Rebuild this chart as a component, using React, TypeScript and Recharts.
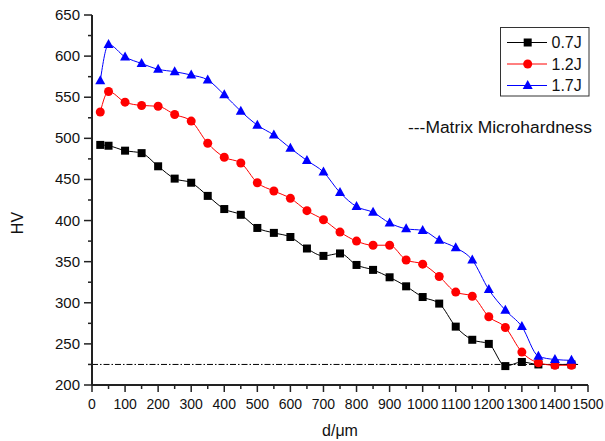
import React from "react";
import { LineChart, Line, XAxis, YAxis, ReferenceLine, Legend } from "recharts";

// distance from surface (µm) and microhardness for each impact energy
const distance = [25, 50, 100, 150, 200, 250, 300, 350, 400, 450, 500, 550, 600, 650, 700, 750, 800, 850, 900, 950, 1000, 1050, 1100, 1150, 1200, 1250, 1300, 1350, 1400, 1450];
const hv07 = [492, 491, 485, 482, 466, 451, 446, 430, 414, 407, 391, 385, 380, 366, 357, 360, 346, 340, 331, 320, 307, 299, 271, 255, 250, 223, 228, 225, 225, 225];
const hv12 = [532, 557, 544, 540, 539, 529, 521, 494, 477, 470, 446, 436, 427, 412, 401, 386, 375, 370, 370, 352, 347, 332, 313, 308, 283, 270, 240, 227, 224, 224];
const hv17 = [570, 614, 599, 591, 584, 581, 577, 571, 553, 533, 516, 504, 488, 473, 459, 434, 417, 410, 397, 390, 388, 376, 367, 352, 316, 291, 271, 235, 231, 230];

const xTicks = [0, 50, 100, 150, 200, 250, 300, 350, 400, 450, 500, 550, 600, 650, 700, 750, 800, 850, 900, 950, 1000, 1050, 1100, 1150, 1200, 1250, 1300, 1350, 1400, 1450, 1500];
const yTicks = [200, 225, 250, 275, 300, 325, 350, 375, 400, 425, 450, 475, 500, 525, 550, 575, 600, 625, 650];
const matrixHV = 225;
const matrixEnd = 1470;

const FONT = "'Liberation Sans', Arial, sans-serif";

const series = [
  { key: "e07", name: "0.7J", color: "#000000", shape: "square" },
  { key: "e12", name: "1.2J", color: "#ff0000", shape: "circle" },
  { key: "e17", name: "1.7J", color: "#0000ff", shape: "triangle" },
];

const data = distance.map((d, i) => ({ d, e07: hv07[i], e12: hv12[i], e17: hv17[i] }));

function Marker({ cx, cy, shape, color }: any) {
  if (cx == null || cy == null) return null;
  if (shape === "square") return <rect x={cx - 4} y={cy - 4} width={8} height={8} fill={color} />;
  if (shape === "circle") return <circle cx={cx} cy={cy} r={4.5} fill={color} />;
  return <polygon points={`${cx},${cy - 5.5} ${cx - 5},${cy + 3.5} ${cx + 5},${cy + 3.5}`} fill={color} />;
}

function XTick({ x, y, payload }: any) {
  const major = payload.value % 100 === 0;
  return (
    <g>
      <line x1={x} y1={y} x2={x} y2={y + (major ? 7 : 4)} stroke="#222" strokeWidth={1.5} />
      {major && (
        <text x={x} y={y + 24} textAnchor="middle" fontSize={14} fontFamily={FONT} fill="#111">
          {payload.value}
        </text>
      )}
    </g>
  );
}

function YTick({ x, y, payload }: any) {
  const major = payload.value % 50 === 0;
  return (
    <g>
      <line x1={x} y1={y} x2={x - (major ? 8 : 4)} y2={y} stroke="#222" strokeWidth={1.5} />
      {major && (
        <text x={x - 12} y={y + 5} textAnchor="end" fontSize={15} fontFamily={FONT} fill="#111">
          {payload.value}
        </text>
      )}
    </g>
  );
}

function LegendBox() {
  return (
    <svg width={90} height={70} style={{ display: "block" }}>
      <rect x={0.5} y={0.5} width={88.5} height={68.5} fill="#fff" stroke="#333" strokeWidth={1} />
      {series.map((s, i) => {
        const cy = 15.5 + i * 21.5;
        return (
          <g key={s.key}>
            <line x1={7} y1={cy} x2={47} y2={cy} stroke={s.color} strokeWidth={1} />
            <Marker cx={27.7} cy={cy} shape={s.shape} color={s.color} />
            <text x={51.5} y={cy + 5.5} fontSize={16} fontFamily={FONT} fill="#111">
              {s.name}
            </text>
          </g>
        );
      })}
    </svg>
  );
}

export default function App() {
  return (
    <div style={{ position: "absolute", left: 0, top: 0, width: 605, height: 441, background: "#fff" }}>
      <LineChart width={605} height={441} data={data} margin={{ top: 15, right: 17, bottom: 0, left: 0 }}>
        <XAxis
          dataKey="d"
          type="number"
          domain={[0, 1500]}
          ticks={xTicks}
          interval={0}
          height={56}
          tickSize={0}
          tickMargin={0}
          tickLine={false}
          axisLine={{ stroke: "#222", strokeWidth: 2 }}
          tick={<XTick />}
          label={(p: any) => {
            const vb = p.viewBox;
            return (
              <text x={vb.x + vb.width / 2} y={vb.y + 51} textAnchor="middle" fontSize={16} fontFamily={FONT} fill="#111">
                d/μm
              </text>
            );
          }}
        />
        <YAxis
          type="number"
          domain={[200, 650]}
          ticks={yTicks}
          interval={0}
          width={92}
          tickSize={0}
          tickMargin={0}
          tickLine={false}
          axisLine={{ stroke: "#222", strokeWidth: 2 }}
          tick={<YTick />}
          label={(p: any) => {
            const vb = p.viewBox;
            const cy = vb.y + vb.height / 2 + 23;
            return (
              <text x={23} y={cy} transform={`rotate(-90 23 ${cy})`} textAnchor="middle" fontSize={16} fontFamily={FONT} fill="#111">
                HV
              </text>
            );
          }}
        />
        <ReferenceLine
          segment={[
            { x: 0, y: matrixHV },
            { x: matrixEnd, y: matrixHV },
          ]}
          stroke="#000"
          strokeWidth={1}
          strokeDasharray="6 2 1.5 2"
        />
        {series.map((s) => (
          <Line
            key={s.key}
            dataKey={s.key}
            name={s.name}
            type="monotone"
            stroke={s.color}
            strokeWidth={1}
            isAnimationActive={false}
            dot={(p: any) => <Marker key={`${s.key}-${p.index}`} cx={p.cx} cy={p.cy} shape={s.shape} color={s.color} />}
            activeDot={false}
          />
        ))}
        <Legend
          layout="vertical"
          align="center"
          verticalAlign="middle"
          wrapperStyle={{ top: 27, left: 500, width: 90, height: 70 }}
          content={() => <LegendBox />}
        />
      </LineChart>
      <svg width={200} height={24} style={{ position: "absolute", left: 405, top: 115 }}>
        <text x={3} y={18} fontSize={16} fontFamily={FONT} fill="#111" textLength={184} lengthAdjust="spacingAndGlyphs">
          ---Matrix Microhardness
        </text>
      </svg>
    </div>
  );
}
